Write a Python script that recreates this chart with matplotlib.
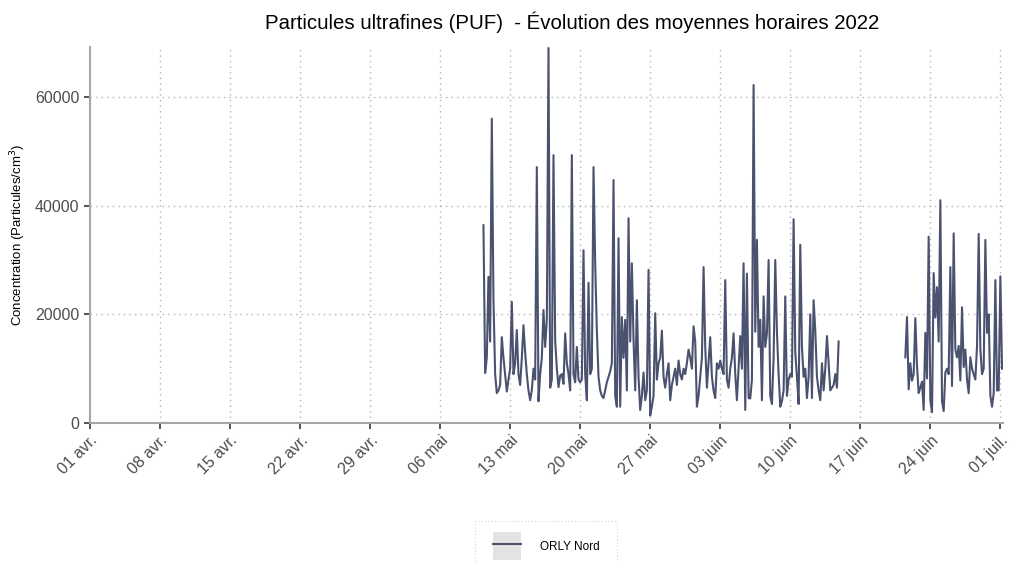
import numpy as np
import pandas as pd
import matplotlib
matplotlib.use("Agg")
import matplotlib.pyplot as plt
from matplotlib.patches import Rectangle
from matplotlib.legend_handler import HandlerLine2D

plt.rcParams['font.family'] = ['Liberation Sans', 'DejaVu Sans']

# hourly means, resampled every 4 h
seg1_start = "2022-05-10 08:00"
seg1_values = [
    36400, 9200, 12000, 26900,                      # 10 mai
    15000, 56000, 22600, 9000, 5500, 6000,          # 11 mai
    7000, 15800, 12000, 9000, 5800, 8000,
    10000, 22300, 9000, 11000, 17100, 9000,
    7000, 12000, 18000, 13000, 9000, 6000,
    4200, 6000, 10000, 8000, 47100, 4000,           # 15 mai
    9000, 12000, 20800, 14000, 19000, 69000,
    6500, 8000, 49300, 15200, 10000, 6600,
    8700, 9000, 7200, 16500, 11000, 9000,
    6000, 49300, 9000, 7500, 14000, 8000,
    7500, 8000, 31800, 9000, 4200, 25800,           # 20 mai
    9000, 10000, 47100, 29400, 17000, 8500,
    6000, 5000, 4600, 6000, 7500, 8500,
    9500, 11000, 44700, 5000, 3000, 34000,
    3000, 19500, 12000, 19000, 6000, 37700,
    15000, 29400, 15200, 6000, 22600, 8500,         # 25 mai
    2400, 5000, 9300, 4200, 6000, 28200,
    1400, 3000, 5000, 20200, 8000, 11000,
    12000, 17000, 8500, 6500, 9000, 11000,
    4200, 7000, 8500, 10000, 7000, 11500,
    9000, 8000, 10000, 9000, 11000, 13500,          # 30 mai
    12000, 10000, 17800, 15000, 3000, 5000,
    8500, 12000, 28700, 14000, 6500, 11000,         # 01 juin
    15800, 8500, 6000, 4600, 11000, 10000,
    11500, 10000, 9000, 26300, 8000, 6500,
    10000, 12000, 16500, 9000, 4200, 10000,
    16000, 10000, 29400, 2400, 27500, 4600,         # 05 juin
    4500, 8000, 62200, 16800, 33700, 14000,
    19000, 4200, 23300, 14000, 16500, 30000,
    5000, 3500, 12000, 30000, 16800, 9000,
    3000, 4000, 6000, 23300, 5000, 8000,
    9000, 8500, 37500, 13000, 8500, 3500,           # 10 juin
    32800, 14000, 8500, 10000, 4600, 8500,
    20000, 4600, 22600, 17000, 8500, 6000,
    4200, 11000, 6000, 10000, 16000, 11000,
    6000, 6500, 7000, 9000, 6500, 15000,            # 14 juin
]
seg2_start = "2022-06-21 12:00"
seg2_values = [
    12100, 19500, 6200,                             # 21 juin
    11000, 7800, 9000, 19300, 10500, 5500,
    6500, 7600, 2400, 16600, 8200, 34300,
    4200, 2000, 27600, 19400, 25000, 15000,
    41000, 4000, 2200, 9300, 10000, 9000,           # 25 juin
    28700, 6800, 34900, 13500, 12100, 14200,
    7800, 21300, 10300, 13500, 8000, 5500,
    12100, 10000, 9000, 8000, 14200, 34800,
    13500, 9000, 10000, 33700, 16600, 20000,
    5000, 3000, 5500, 26300, 6000, 6000,            # 30 juin
    27000, 10000,
]
tick_dates = pd.date_range("2022-04-01", "2022-07-01", freq="7D")
tick_labels = ["01 avr.", "08 avr.", "15 avr.", "22 avr.", "29 avr.", "06 mai",
               "13 mai", "20 mai", "27 mai", "03 juin", "10 juin", "17 juin",
               "24 juin", "01 juil."]
y_ticks = [0, 20000, 40000, 60000]

s1 = pd.Series(seg1_values, index=pd.date_range(seg1_start, periods=len(seg1_values), freq="4h"))
s2 = pd.Series(seg2_values, index=pd.date_range(seg2_start, periods=len(seg2_values), freq="4h"))
gap = pd.Series([np.nan], index=[s1.index[-1] + pd.Timedelta(hours=4)])
data = pd.concat([s1, gap, s2])

line_col = "#4a5270"
grid_col = "#b3b3b3"
axis_col = "#a6a6a6"
text_col = "#4d4d4d"

fig = plt.figure(figsize=(10.13, 5.62), dpi=100)
ax = fig.add_axes([0.0888, 0.2473, 0.9012, 0.6691])

line, = ax.plot(data.index, data.values, color=line_col, lw=1.5, label="ORLY Nord")

ax.set_xlim(pd.Timestamp("2022-04-01"), pd.Timestamp("2022-07-01 06:00"))
ax.set_ylim(0, 69200)
ax.set_xticks(tick_dates)
ax.set_xticklabels(tick_labels, rotation=45, ha="right", va="top", rotation_mode="anchor")
ax.set_yticks(y_ticks)
ax.set_yticklabels([str(v) for v in y_ticks])

for v in y_ticks[1:]:
    ax.axhline(v, color=grid_col, lw=1, ls=(0, (1, 3)), zorder=0)
for d in tick_dates[1:]:
    ax.axvline(d, color=grid_col, lw=1, ls=(0, (1, 3)), zorder=0)

for side in ["top", "right"]:
    ax.spines[side].set_visible(False)
for side in ["left", "bottom"]:
    ax.spines[side].set_color(axis_col)
    ax.spines[side].set_linewidth(1.5)
ax.tick_params(axis="both", direction="out", length=4, width=1.2, color="#333333",
               labelsize=11.5, labelcolor=text_col)
ax.tick_params(axis="x", pad=3)

ax.set_ylabel("Concentration (Particules/cm$^3$)", fontsize=9.5, color="black", labelpad=5)

fig.text(0.565, 0.96, "Particules ultrafines (PUF)  - Évolution des moyennes horaires 2022",
         ha="center", va="center", fontsize=14.7)


class BoxedLine(HandlerLine2D):
    def create_artists(self, legend, orig_handle, xdescent, ydescent, width, height,
                       fontsize, trans):
        bg = Rectangle((-xdescent, -ydescent - height * 0.45), width, height * 1.9,
                       facecolor="#e3e3e3", edgecolor="none", transform=trans)
        arts = super().create_artists(legend, orig_handle, xdescent, ydescent, width,
                                      height, fontsize, trans)
        return [bg] + arts


leg = fig.legend(handles=[line], loc="upper center", bbox_to_anchor=(0.539, 0.073),
                 fontsize=8.5, frameon=True, fancybox=False, handlelength=2.4,
                 handleheight=1.5, handletextpad=1.6, borderpad=1.5, borderaxespad=0,
                 handler_map={line: BoxedLine()})
frame = leg.get_frame()
frame.set_edgecolor("#cccccc")
frame.set_linestyle((0, (1, 2)))
frame.set_linewidth(0.8)

fig.savefig("out.png", dpi=100)
